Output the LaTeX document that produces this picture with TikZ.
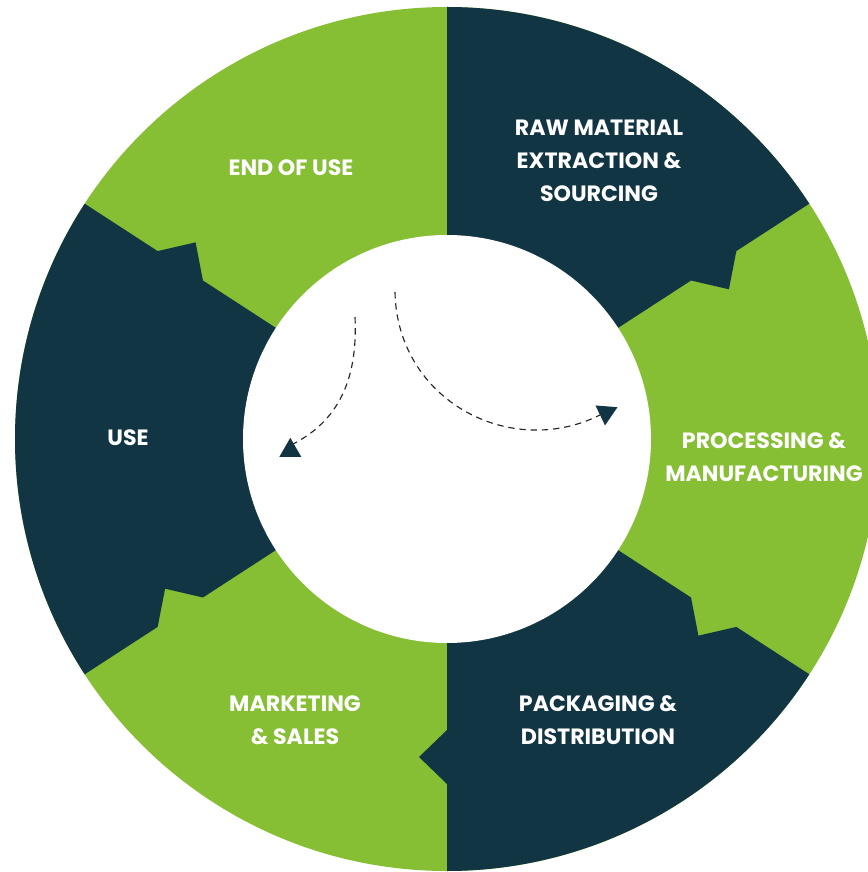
\documentclass[tikz,border=0pt]{standalone}
\usepackage{fontspec}
\setmainfont{Poppins}
\usetikzlibrary{shapes.geometric}

\definecolor{verde}{RGB}{134,190,52}
\definecolor{petrolio}{RGB}{18,53,68}

\tikzset{
    etichetta/.style={text=white, align=center, font=\fontsize{12.6}{18.7}\selectfont\bfseries},
    punta/.style={regular polygon, regular polygon sides=3, fill=petrolio, inner sep=0pt, minimum size=0.51cm},
    tratteggio/.style={draw=black!85, line width=0.65pt, dash pattern=on 3.6pt off 2.8pt}
}

\begin{document}
\begin{tikzpicture}[x=0.02cm, y=0.02cm]
    \useasboundingbox (-447,-433) rectangle (421,439);

    % Anello
    \fill[verde] (0,0) circle[radius=432];

    % Settori scuri
    \fill[petrolio] (0,0) -- (90:432) arc[start angle=90, end angle=33, radius=432]
        -- (33:345) -- (27.97:319.2) -- (33:291) -- cycle;
    \fill[petrolio] (0,0) -- (-33:291) -- (-38.03:319.2) -- (-33:345)
        -- (-33:432) arc[start angle=-33, end angle=-90, radius=432]
        -- (-90:345) -- (-95.03:319.2) -- (-90:291) -- cycle;
    \fill[petrolio] (0,0) -- (213:291) -- (207.97:319.2) -- (213:345)
        -- (213:432) arc[start angle=213, end angle=147, radius=432]
        -- (147:345) -- (141.97:319.2) -- (147:291) -- cycle;

    % Cerchio interno
    \fill[white] (0,0) circle[radius=204];

    % Etichette
    \node[etichetta] (fine) at (-156,271) {END OF USE};
    \node[etichetta] (materie) at (152,278) {RAW MATERIAL\\EXTRACTION \&\\SOURCING};
    \node[etichetta] (lavorazione) at (317,-18) {PROCESSING \&\\MANUFACTURING};
    \node[etichetta] (imballaggio) at (151,-281) {PACKAGING \&\\DISTRIBUTION};
    \node[etichetta] (vendita) at (-152,-281) {MARKETING\\\& SALES};
    \node[etichetta] (uso) at (-319,1) {USE};

    % Frecce tratteggiate
    \coordinate (inizioA) at (-92,122);
    \coordinate (fineA) at (-154,-5);
    \node[punta] (puntaA) at (-156.7,-11.6) {};
    \draw[tratteggio] (inizioA) .. controls (-89,59) and (-109,18) .. (fineA);

    \coordinate (inizioB) at (-52,147);
    \coordinate (fineB) at (153,24);
    \node[punta, shape border rotate=175.6] (puntaB) at (159,26.3) {};
    \draw[tratteggio] (inizioB) .. controls (-50,39) and (63,-21) .. (fineB);
\end{tikzpicture}
\end{document}
